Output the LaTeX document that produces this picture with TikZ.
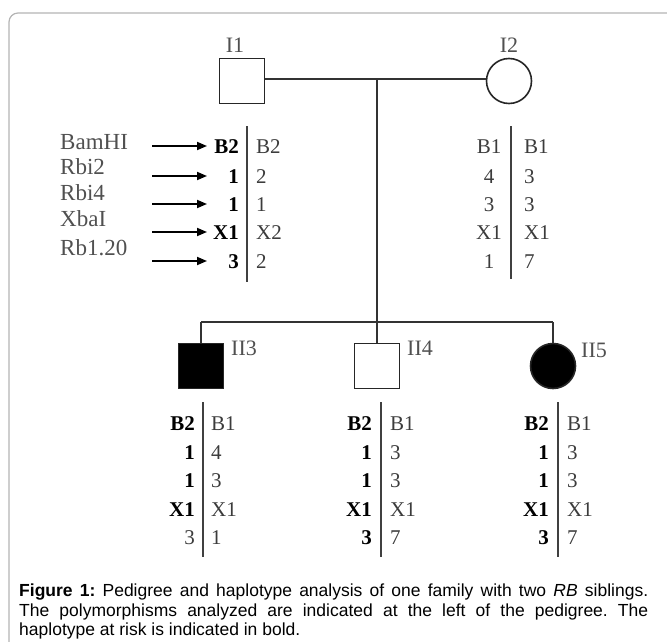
\documentclass[tikz,border=0pt]{standalone}
\usepackage{fontspec}
\setmainfont{Liberation Serif}
\setsansfont{Liberation Sans}
\usetikzlibrary{arrows.meta}
\definecolor{framegray}{HTML}{B4B4B4}
\definecolor{txtgray}{HTML}{3C3C3C}
\definecolor{lblgray}{HTML}{505050}
\tikzset{
  person/.style={draw=black!85, line width=1.6pt, minimum width=45pt, minimum height=45pt, inner sep=0pt},
  male/.style={person, rectangle},
  female/.style={person, circle, minimum size=45pt},
  affected/.style={fill=black},
  idlabel/.style={text=lblgray, font=\fontsize{22}{22}\selectfont, inner sep=0pt},
  allele/.style={inner sep=0pt, text height=14pt, text depth=0pt, font=\fontsize{21}{21}\selectfont, text=txtgray},
  risk/.style={allele, text=black, font=\fontsize{21}{21}\selectfont\bfseries},
  markerlbl/.style={anchor=west, inner sep=0pt, text height=14pt, text depth=0pt, text=lblgray, font=\fontsize{23}{23}\selectfont},
  link/.style={draw=black!80, line width=1.4pt},
  marriage/.style={draw=black!80, line width=2.4pt},
  hbar/.style={draw=black!75, line width=1.8pt},
  pointer/.style={draw=black, line width=1.8pt, -{Triangle[length=10pt,width=8pt]}}
}
\begin{document}
\begin{tikzpicture}[x=1pt, y=-1pt]
\useasboundingbox (0,0) rectangle (667,642);
% outer frame
\draw[framegray, line width=1.2pt, rounded corners=9pt] (9,642) -- (9,13) -- (667,13);

% generation I
\node[male]   (i1) at (242,81) {};
\node[female] (i2) at (509,81) {};
\node[idlabel] (i1lbl) at (235,45) {I1};
\node[idlabel] (i2lbl) at (509,45) {I2};
\coordinate (mate) at (377,79);
\draw[marriage] (i1.east |- mate) -- (i2.west |- mate);
\coordinate (sib) at (377,322);
\draw[link] (mate) -- (sib);

% generation II
\node[male, affected] (ii3) at (201,366) {};
\node[male]           (ii4) at (377,366) {};
\node[female, affected] (ii5) at (553,366) {};
\node[idlabel, anchor=west] (ii3lbl) at (231,348) {II3};
\node[idlabel, anchor=west] (ii4lbl) at (407,348) {II4};
\node[idlabel, anchor=west] (ii5lbl) at (581,350) {II5};
\coordinate (sibL) at (201,322);
\coordinate (sibR) at (553,322);
\draw[link] (sibL) -- (sibR);
\draw[link] (sibL) -- (ii3.north);
\draw[link] (sib) -- (ii4.north);
\draw[link] (sibR) -- (ii5.north);

% haplotype bars
\draw[hbar] (247,126) -- (247,282);
\draw[hbar] (511,126) -- (511,279);
\draw[hbar] (203,402) -- (203,557);
\draw[hbar] (381,402) -- (381,557);
\draw[hbar] (558,402) -- (558,557);

% I1 haplotypes
\foreach \y/\a/\b [count=\k] in {146/B2/B2, 176/1/2, 204/1/1, 232/X1/X2, 261/3/2} {
  \node[risk, anchor=east] (i1a\k) at (239,\y) {\a};
  \node[allele, anchor=west] (i1b\k) at (256,\y) {\b};
}
% I2 haplotypes
\foreach \y/\a/\b [count=\k] in {146/B1/B1, 176/4/3, 204/3/3, 232/X1/X1, 261/1/7} {
  \node[allele] (i2a\k) at (489,\y) {\a};
  \node[allele, anchor=west] (i2b\k) at (524,\y) {\b};
}

% marker names with arrows pointing at the risk alleles
\foreach \ly/\ay/\name [count=\k] in {142/146/BamHI, 167/176/Rbi2, 193/204/Rbi4, 219/232/XbaI, 248/261/Rb1.20} {
  \node[markerlbl] (m\k) at (60,\ly) {\name};
  \coordinate (ms\k) at (152,\ay);
  \coordinate (me\k) at (207,\ay);
  \draw[pointer] (ms\k) -- (me\k);
}

% II3 haplotypes
\foreach \y/\a/\b [count=\k] in {423/B2/B1, 452/1/4, 480/1/3, 509/X1/X1} {
  \node[risk, anchor=east] (ii3a\k) at (195,\y) {\a};
  \node[allele, anchor=west] (ii3b\k) at (211,\y) {\b};
}
\node[allele, anchor=east] (ii3a5) at (195,537) {3};
\node[allele, anchor=west] (ii3b5) at (211,537) {1};
% II4 haplotypes
\foreach \y/\a/\b [count=\k] in {423/B2/B1, 452/1/3, 480/1/3, 509/X1/X1, 537/3/7} {
  \node[risk, anchor=east] (ii4a\k) at (372,\y) {\a};
  \node[allele, anchor=west] (ii4b\k) at (390,\y) {\b};
}
% II5 haplotypes
\foreach \y/\a/\b [count=\k] in {423/B2/B1, 452/1/3, 480/1/3, 509/X1/X1, 537/3/7} {
  \node[risk, anchor=east] (ii5a\k) at (549,\y) {\a};
  \node[allele, anchor=west] (ii5b\k) at (567,\y) {\b};
}

% caption
\node[anchor=north west, inner sep=0pt, text width=629pt, align=justify,
      font=\sffamily\fontsize{17.5}{19.5}\selectfont] (cap) at (19,584)
  {\frenchspacing\hyphenpenalty=10000\exhyphenpenalty=10000\textbf{Figure 1:} Pedigree and haplotype analysis of one family with two \textit{RB} siblings.\linebreak The polymorphisms analyzed are indicated at the left of the pedigree. The\linebreak haplotype at risk is indicated in bold.};
\end{tikzpicture}
\end{document}
